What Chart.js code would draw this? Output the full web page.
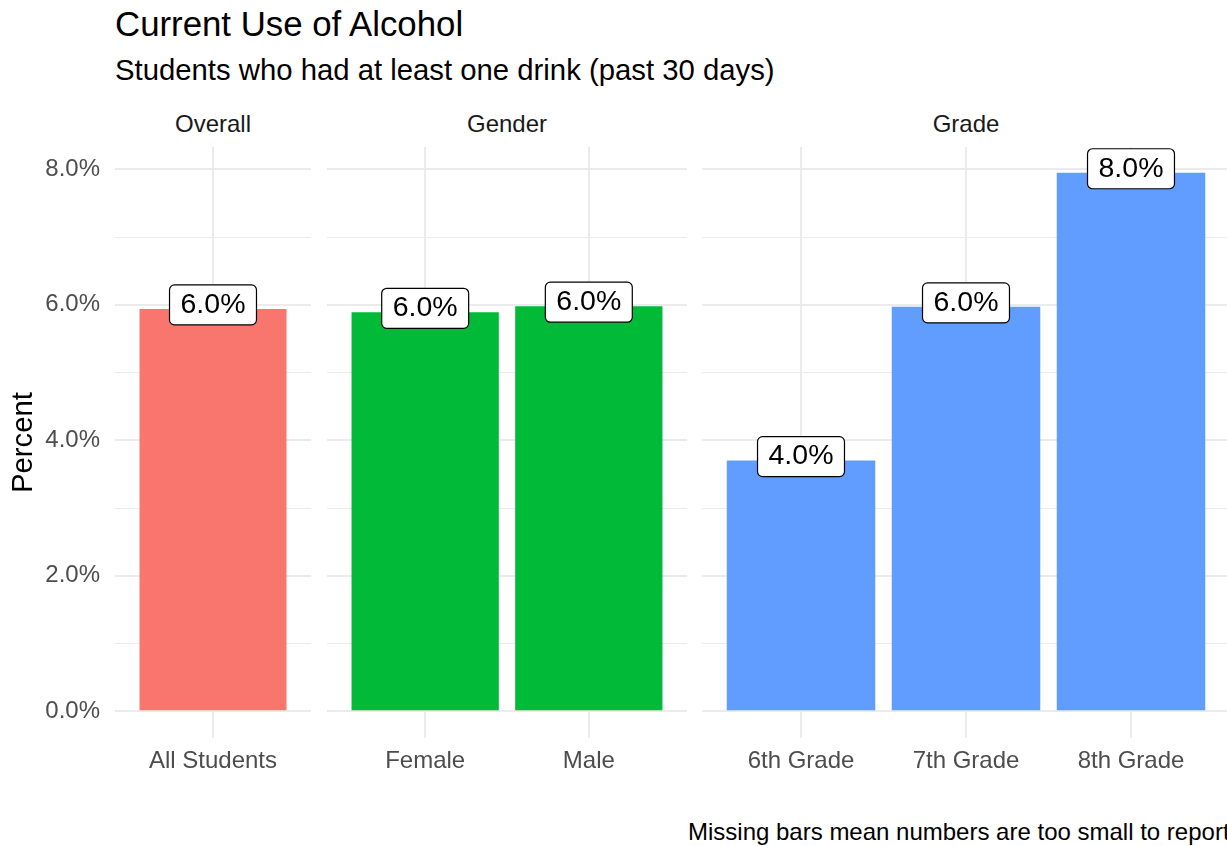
<!DOCTYPE html>
<html>
<head>
<meta charset="utf-8">
<title>Current Use of Alcohol</title>
<script src="https://cdn.jsdelivr.net/npm/chart.js@4.4.1/dist/chart.umd.min.js"></script>
<style>
  body { margin: 0; width: 1227px; height: 846px; overflow: hidden; background: #fff; position: relative;
         font-family: "Liberation Sans", Arial, sans-serif; }
  .txt { position: absolute; line-height: 1; white-space: nowrap; }
  .strip { position: absolute; top: 112px; line-height: 1; text-align: center; font-size: 24px; color: #1a1a1a; }
  canvas { position: absolute; top: 147px; }
</style>
</head>
<body>
<div class="txt" style="left:115px;top:6.5px;font-size:34.8px;color:#000">Current Use of Alcohol</div>
<div class="txt" style="left:115px;top:54.5px;font-size:29.3px;color:#000">Students who had at least one drink (past 30 days)</div>

<div class="strip" id="strip0" style="left:115px;width:196px"></div>
<div class="strip" id="strip1" style="left:327px;width:360px"></div>
<div class="strip" id="strip2" style="left:702px;width:528px"></div>

<canvas id="overallCanvas" width="311" height="641" style="left:0px"></canvas>
<canvas id="genderCanvas" width="360" height="641" style="left:327px"></canvas>
<canvas id="gradeCanvas" width="528" height="641" style="left:702px"></canvas>

<div class="txt" style="left:688px;top:819.5px;font-size:24px;color:#000">Missing bars mean numbers are too small to report</div>

<script>
const facetNames = ['Overall', 'Gender', 'Grade'];

const overallLabels = ['All Students'];
const overallValues = [5.94];
const overallText = ['6.0%'];

const genderLabels = ['Female', 'Male'];
const genderValues = [5.89, 5.98];
const genderText = ['6.0%', '6.0%'];

const gradeLabels = ['6th Grade', '7th Grade', '8th Grade'];
const gradeValues = [3.70, 5.97, 7.95];
const gradeText = ['4.0%', '6.0%', '8.0%'];

const yTicks = [0, 2, 4, 6, 8];
const yTickLabels = ['0.0%', '2.0%', '4.0%', '6.0%', '8.0%'];
const yMinor = [1, 3, 5, 7];

const FONT = '"Liberation Sans", Arial, sans-serif';
Chart.defaults.font.family = FONT;

facetNames.forEach((name, i) => {
    document.getElementById('strip' + i).textContent = name;
});

// boxed value labels sitting on the bar tops, like geom_label
const valueBoxes = {
    id: 'valueBoxes',
    afterDatasetsDraw(chart) {
        const ctx = chart.ctx;
        const texts = chart.data.datasets[0].labelTexts;
        chart.getDatasetMeta(0).data.forEach((bar, i) => {
            ctx.save();
            ctx.font = '28.5px ' + FONT;
            const w = ctx.measureText(texts[i]).width + 22;
            const h = 40;
            const cy = bar.y - 4;
            ctx.beginPath();
            ctx.roundRect(bar.x - w / 2, cy - h / 2, w, h, 5);
            ctx.fillStyle = '#fff';
            ctx.fill();
            ctx.lineWidth = 1.2;
            ctx.strokeStyle = '#000';
            ctx.stroke();
            ctx.fillStyle = '#000';
            ctx.textAlign = 'center';
            ctx.textBaseline = 'middle';
            ctx.fillText(texts[i], bar.x, cy);
            ctx.restore();
        });
    }
};

function makePanel(canvasId, labels, values, texts, color, isFirst) {
    const n = labels.length;
    return new Chart(document.getElementById(canvasId), {
        type: 'bar',
        data: {
            datasets: [{
                data: values.map((v, i) => ({ x: i + 1, y: v })),
                labelTexts: texts,
                backgroundColor: color,
                borderWidth: 0,
                // 0.9 of a category unit; a lone category gets the whole 1.2-unit panel as its ruler
                barPercentage: n === 1 ? 0.75 : 0.9,
                categoryPercentage: 1
            }]
        },
        options: {
            responsive: false,
            animation: false,
            layout: { padding: 0 },
            plugins: { legend: { display: false }, tooltip: { enabled: false } },
            scales: {
                x: {
                    type: 'linear',
                    min: 0.4,
                    max: n + 0.6,
                    offset: false,
                    afterBuildTicks: s => { s.ticks = labels.map((_, k) => ({ value: k + 1 })); },
                    ticks: {
                        callback: v => labels[v - 1],
                        color: '#4d4d4d',
                        font: { size: 24 },
                        padding: 9,
                        autoSkip: false,
                        maxRotation: 0
                    },
                    grid: { color: '#ebebeb', lineWidth: 2, drawTicks: false, offset: false },
                    border: { display: false },
                    afterFit: s => { s.height = 50; s.paddingLeft = 0; s.paddingRight = 0; }
                },
                y: {
                    min: -0.395,
                    max: 8.33,
                    afterBuildTicks: s => {
                        s.ticks = yTicks.concat(yMinor).sort((a, b) => a - b).map(v => ({ value: v }));
                    },
                    ticks: {
                        display: isFirst,
                        callback: v => {
                            const k = yTicks.indexOf(v);
                            return k >= 0 ? yTickLabels[k] : '';
                        },
                        color: '#4d4d4d',
                        font: { size: 24 },
                        padding: 15,
                        autoSkip: false
                    },
                    grid: {
                        color: '#ebebeb',
                        lineWidth: c => (c.tick && yTicks.includes(c.tick.value) ? 2 : 1),
                        drawTicks: false
                    },
                    border: { display: false },
                    title: {
                        display: isFirst,
                        text: 'Percent',
                        color: '#000',
                        font: { size: 29.3 },
                        padding: { top: 6, bottom: 0 }
                    },
                    afterFit: s => { s.width = isFirst ? 115 : 0; s.paddingTop = 0; s.paddingBottom = 0; }
                }
            }
        },
        plugins: [valueBoxes]
    });
}

makePanel('overallCanvas', overallLabels, overallValues, overallText, '#F8766D', true);
makePanel('genderCanvas', genderLabels, genderValues, genderText, '#00BA38', false);
makePanel('gradeCanvas', gradeLabels, gradeValues, gradeText, '#619CFF', false);
</script>
</body>
</html>
